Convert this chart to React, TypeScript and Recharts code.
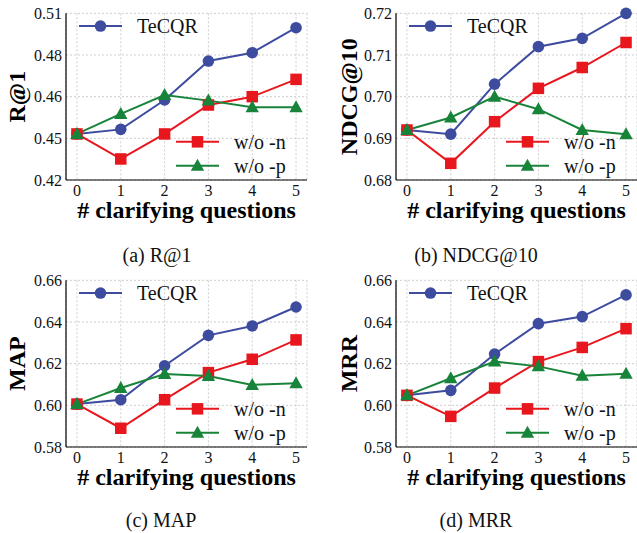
import React from "react";
import { LineChart, Line, XAxis, YAxis, CartesianGrid } from "recharts";

const steps = [0, 1, 2, 3, 4, 5];
const seriesNames = ["TeCQR", "w/o -n", "w/o -p"];

// (a) R@1
const r1TeCQR = [0.4471, 0.4493, 0.4634, 0.4821, 0.4861, 0.4981];
const r1WoN = [0.4471, 0.4351, 0.4471, 0.461, 0.465, 0.4733];
const r1WoP = [0.4471, 0.4567, 0.4658, 0.4631, 0.4599, 0.4599];
const r1Ticks = [0.425, 0.445, 0.465, 0.485, 0.505];
const r1TickLabels = ["0.42", "0.45", "0.46", "0.48", "0.51"];

// (b) NDCG@10
const ndcgTeCQR = [0.692, 0.691, 0.703, 0.712, 0.714, 0.72];
const ndcgWoN = [0.692, 0.684, 0.694, 0.702, 0.707, 0.713];
const ndcgWoP = [0.692, 0.695, 0.7, 0.697, 0.692, 0.691];
const ndcgTicks = [0.68, 0.69, 0.7, 0.71, 0.72];
const ndcgTickLabels = ["0.68", "0.69", "0.70", "0.71", "0.72"];

// (c) MAP
const mapTeCQR = [0.6006, 0.6027, 0.619, 0.6336, 0.6381, 0.6472];
const mapWoN = [0.6006, 0.589, 0.6027, 0.6157, 0.6221, 0.6314];
const mapWoP = [0.6006, 0.6083, 0.615, 0.6141, 0.6098, 0.6106];
const mapTicks = [0.58, 0.6, 0.62, 0.64, 0.66];
const mapTickLabels = ["0.58", "0.60", "0.62", "0.64", "0.66"];

// (d) MRR
const mrrTeCQR = [0.6048, 0.6072, 0.6246, 0.6392, 0.6426, 0.653];
const mrrWoN = [0.6048, 0.5947, 0.6083, 0.621, 0.6278, 0.6368];
const mrrWoP = [0.6048, 0.613, 0.621, 0.6187, 0.6142, 0.6152];
const mrrTicks = [0.58, 0.6, 0.62, 0.64, 0.66];
const mrrTickLabels = ["0.58", "0.60", "0.62", "0.64", "0.66"];

const FONT = "'Liberation Serif', 'Times New Roman', Times, serif";
const BLUE = "#3d4c9e";
const RED = "#e8161d";
const GREEN = "#18843a";

const PLOT_W = 241;
const PLOT_H = 166.67;
const PLOT_TOP = 13.33;
const X_AXIS_H = 50;
const Y_AXIS_W = 50;
const RIGHT_PAD = 11;

const frame = { stroke: "#000", strokeWidth: 1.2 };

function Square(props: any) {
  const { cx, cy, fill } = props;
  if (cx == null || cy == null) return null;
  return <rect x={cx - 5.75} y={cy - 5.75} width={11.5} height={11.5} fill={fill} />;
}

function Triangle(props: any) {
  const { cx, cy, fill } = props;
  if (cx == null || cy == null) return null;
  return (
    <polygon
      points={`${cx},${cy - 7} ${cx - 6.7},${cy + 5} ${cx + 6.7},${cy + 5}`}
      fill={fill}
    />
  );
}

function Circle(props: any) {
  const { cx, cy, fill } = props;
  if (cx == null || cy == null) return null;
  return <circle cx={cx} cy={cy} r={5.8} fill={fill} />;
}

function Panel({
  left,
  top,
  padLeft,
  yLabel,
  yLabelX,
  tecqr,
  woN,
  woP,
  ticks,
  tickLabels,
}: any) {
  const data = steps.map((s, i) => ({
    step: s,
    tecqr: tecqr[i],
    woN: woN[i],
    woP: woP[i],
  }));
  const width = padLeft + Y_AXIS_W + PLOT_W + RIGHT_PAD;
  const height = PLOT_TOP + PLOT_H + X_AXIS_H;
  const px = padLeft + Y_AXIS_W;
  const legendRows = [
    { y: PLOT_TOP + 12.7, x0: px + 13, color: BLUE, Mark: Circle, name: seriesNames[0] },
    { y: PLOT_TOP + 128.5, x0: px + 110, color: RED, Mark: Square, name: seriesNames[1] },
    { y: PLOT_TOP + 152.5, x0: px + 110, color: GREEN, Mark: Triangle, name: seriesNames[2] },
  ];
  const ly = PLOT_TOP + PLOT_H / 2;

  return (
    <div style={{ position: "absolute", left, top, width, height }}>
      <LineChart
        width={width}
        height={height}
        data={data}
        margin={{ top: PLOT_TOP, right: RIGHT_PAD, bottom: 0, left: padLeft }}
      >
        <CartesianGrid stroke="#c8c8c8" strokeDasharray="2 2" strokeWidth={0.9} />
        <XAxis
          dataKey="step"
          type="number"
          domain={[-0.25, 5.25]}
          ticks={steps}
          tickLine={false}
          tickSize={0}
          tickMargin={5}
          height={X_AXIS_H}
          axisLine={frame}
          tick={{ fill: "#111", fontSize: 16, fontFamily: FONT }}
          label={{
            value: "# clarifying questions",
            position: "insideBottom",
            offset: 12,
            fill: "#000",
            fontSize: 24,
            fontWeight: 700,
            fontFamily: FONT,
          }}
        />
        <XAxis
          xAxisId="top"
          orientation="top"
          type="number"
          domain={[-0.25, 5.25]}
          height={0}
          tick={false}
          tickLine={false}
          axisLine={frame}
        />
        <YAxis
          type="number"
          domain={[ticks[0], ticks[ticks.length - 1]]}
          ticks={ticks}
          tickFormatter={(v: number) => tickLabels[ticks.indexOf(v)]}
          tickLine={false}
          tickSize={0}
          tickMargin={4}
          width={Y_AXIS_W}
          axisLine={frame}
          tick={{ fill: "#111", fontSize: 16, fontFamily: FONT }}
        />
        <YAxis
          yAxisId="right"
          orientation="right"
          type="number"
          domain={[0, 1]}
          width={0}
          tick={false}
          tickLine={false}
          axisLine={frame}
        />
        <Line
          dataKey="tecqr"
          name={seriesNames[0]}
          stroke={BLUE}
          strokeWidth={2}
          dot={(p: any) => <Circle key={`c${p.index}`} {...p} fill={BLUE} />}
          activeDot={false}
          isAnimationActive={false}
        />
        <Line
          dataKey="woN"
          name={seriesNames[1]}
          stroke={RED}
          strokeWidth={2}
          dot={(p: any) => <Square key={`s${p.index}`} {...p} fill={RED} />}
          activeDot={false}
          isAnimationActive={false}
        />
        <Line
          dataKey="woP"
          name={seriesNames[2]}
          stroke={GREEN}
          strokeWidth={2}
          dot={(p: any) => <Triangle key={`t${p.index}`} {...p} fill={GREEN} />}
          activeDot={false}
          isAnimationActive={false}
        />
      </LineChart>
      <svg
        width={width}
        height={height}
        style={{ position: "absolute", left: 0, top: 0, pointerEvents: "none" }}
      >
        <text
          x={yLabelX}
          y={ly}
          transform={`rotate(-90 ${yLabelX} ${ly})`}
          textAnchor="middle"
          dominantBaseline="central"
          fontFamily={FONT}
          fontSize={24}
          fontWeight={700}
          fill="#000"
        >
          {yLabel}
        </text>
        {legendRows.map(({ y, x0, color, Mark, name }) => (
          <g key={name}>
            <line x1={x0} x2={x0 + 43} y1={y} y2={y} stroke={color} strokeWidth={2} />
            <Mark cx={x0 + 21.5} cy={y} fill={color} />
            <text x={x0 + 58} y={y + 7} fontFamily={FONT} fontSize={20} fill="#111">
              {name}
            </text>
          </g>
        ))}
      </svg>
    </div>
  );
}

const captions = [
  { text: "(a) R@1", x: 157, y: 262 },
  { text: "(b) NDCG@10", x: 476, y: 262 },
  { text: "(c) MAP", x: 161, y: 527 },
  { text: "(d) MRR", x: 476, y: 527 },
];

export default function App() {
  return (
    <div
      style={{
        position: "absolute",
        left: 0,
        top: 0,
        width: 637,
        height: 533,
        overflow: "hidden",
        background: "#fff",
      }}
    >
      <Panel left={0} top={0} padLeft={16} yLabel="R@1" yLabelX={17.5}
        tecqr={r1TeCQR} woN={r1WoN} woP={r1WoP} ticks={r1Ticks} tickLabels={r1TickLabels} />
      <Panel left={318} top={0} padLeft={28} yLabel="NDCG@10" yLabelX={31.5}
        tecqr={ndcgTeCQR} woN={ndcgWoN} woP={ndcgWoP} ticks={ndcgTicks} tickLabels={ndcgTickLabels} />
      <Panel left={0} top={267.33} padLeft={16} yLabel="MAP" yLabelX={17.5}
        tecqr={mapTeCQR} woN={mapWoN} woP={mapWoP} ticks={mapTicks} tickLabels={mapTickLabels} />
      <Panel left={318} top={267.33} padLeft={28} yLabel="MRR" yLabelX={31.5}
        tecqr={mrrTeCQR} woN={mrrWoN} woP={mrrWoP} ticks={mrrTicks} tickLabels={mrrTickLabels} />
      <svg
        width={637}
        height={533}
        style={{ position: "absolute", left: 0, top: 0, pointerEvents: "none" }}
      >
        {captions.map((c) => (
          <text key={c.text} x={c.x} y={c.y} textAnchor="middle" fontFamily={FONT} fontSize={20} fill="#111">
            {c.text}
          </text>
        ))}
      </svg>
    </div>
  );
}
